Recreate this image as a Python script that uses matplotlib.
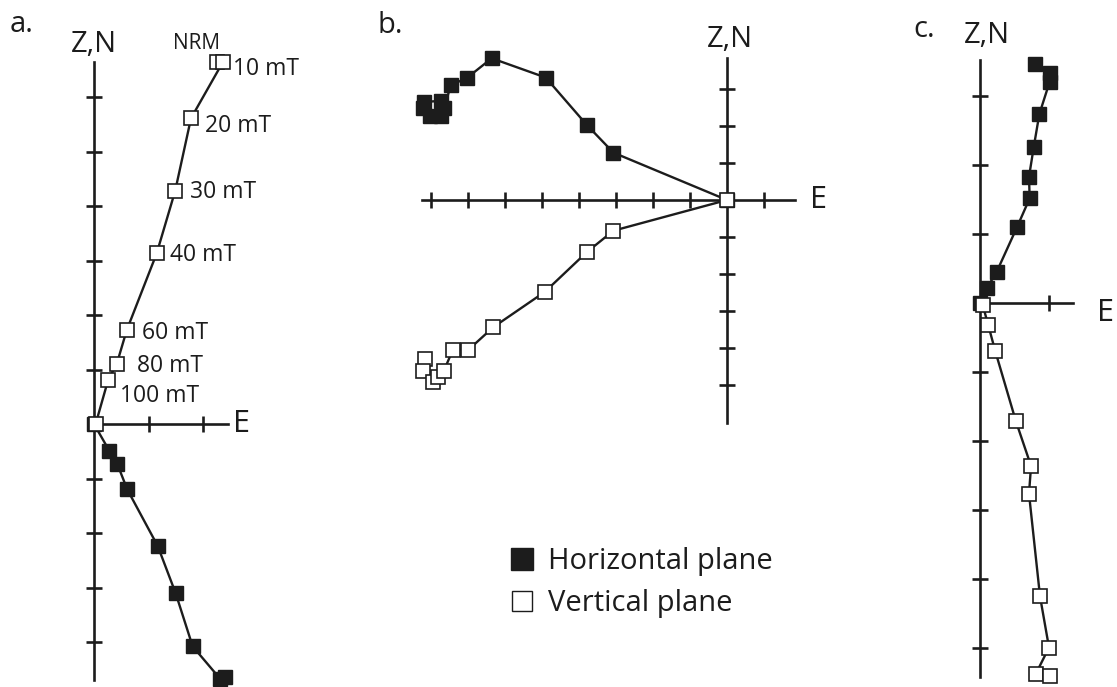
import matplotlib.pyplot as plt
from matplotlib.lines import Line2D

plt.rcParams['font.family'] = ['Open Sans', 'DejaVu Sans']

W, H = 1117, 687
INK = '#1c1c1c'

# a. AF demagnetisation, axis units = one tick
a_steps = ["NRM", "10 mT", "20 mT", "30 mT", "40 mT", "60 mT", "80 mT", "100 mT", ""]
a_vert_e = [2.25, 2.37, 1.78, 1.49, 1.15, 0.60, 0.42, 0.26, 0.03]
a_vert_z = [6.65, 6.65, 5.61, 4.28, 3.13, 1.72, 1.11, 0.81, 0.00]
a_horiz_e = [2.40, 2.31, 1.81, 1.50, 1.17, 0.61, 0.43, 0.28, 0.00]
a_horiz_n = [-4.64, -4.67, -4.08, -3.11, -2.24, -1.20, -0.74, -0.49, 0.00]

# b.
b_horiz_e = [-7.72, -8.04, -8.22, -8.19, -7.72, -7.65, -7.46, -7.04, -6.36, -4.90, -3.79, -3.07, 0.0]
b_horiz_n = [2.28, 2.28, 2.48, 2.65, 2.68, 2.48, 3.11, 3.29, 3.83, 3.31, 2.03, 1.28, 0.0]
b_vert_e = [-8.16, -8.21, -7.94, -7.80, -7.65, -7.41, -6.99, -6.32, -4.92, -3.79, -3.07, 0.0]
b_vert_z = [-4.31, -4.61, -4.91, -4.78, -4.61, -4.05, -4.05, -3.44, -2.48, -1.41, -0.83, 0.0]

# c.
c_horiz_e = [0.79, 1.01, 1.01, 0.86, 0.78, 0.71, 0.72, 0.54, 0.24, 0.10, 0.0]
c_horiz_n = [3.45, 3.32, 3.20, 2.73, 2.26, 1.82, 1.51, 1.10, 0.44, 0.21, 0.0]
c_vert_e = [0.04, 0.12, 0.22, 0.52, 0.74, 0.71, 0.87, 1.00, 0.81, 1.01]
c_vert_z = [-0.04, -0.33, -0.70, -1.72, -2.37, -2.77, -4.26, -5.00, -5.38, -5.42]

fig = plt.figure(figsize=(W / 100, H / 100), dpi=100)


def panel(ox, oy, unit, xlim, ylim, ybounds, xbounds, xticks, yticks):
    """Axes whose data origin sits at pixel (ox, oy), `unit` px per tick."""
    x0, x1 = xlim
    y0, y1 = ylim
    rect = [(ox + x0 * unit) / W, 1 - (oy - y0 * unit) / H,
            (x1 - x0) * unit / W, (y1 - y0) * unit / H]
    ax = fig.add_axes(rect)
    ax.set_xlim(xlim)
    ax.set_ylim(ylim)
    ax.patch.set_visible(False)
    for side in ("top", "right"):
        ax.spines[side].set_visible(False)
    ax.spines["left"].set_position(("data", 0))
    ax.spines["bottom"].set_position(("data", 0))
    ax.spines["left"].set_bounds(*ybounds)
    ax.spines["bottom"].set_bounds(*xbounds)
    for side in ("left", "bottom"):
        ax.spines[side].set_linewidth(1.9)
        ax.spines[side].set_color(INK)
    ax.set_xticks(xticks)
    ax.set_yticks(yticks)
    ax.tick_params(direction="inout", length=11, width=1.9, color=INK,
                   labelleft=False, labelbottom=False)
    return ax


def zij(ax, he, hn, ve, vz, ms):
    ax.plot(he, hn, "-s", color=INK, lw=1.7, ms=ms, mfc=INK, mec=INK,
            mew=1.0, zorder=3, clip_on=False)
    ax.plot(ve, vz, "-s", color=INK, lw=1.7, ms=ms, mfc="white", mec=INK,
            mew=1.2, zorder=4, clip_on=False)


def axis_names(ax, ytop, xend, zn_off, e_off):
    ax.annotate("Z,N", (0, ytop), xytext=zn_off, textcoords="offset pixels",
                ha="center", va="baseline", fontsize=21, color=INK)
    ax.annotate("E", (xend, 0), xytext=e_off, textcoords="offset pixels",
                ha="left", va="center", fontsize=22, color=INK)


# a.
ax_a = panel(94, 424, 54.5, (-1.5, 3.8), (-5.2, 7.6), (-4.70, 6.64),
             (-0.1, 2.45), [1, 2], [-4, -3, -2, -1, 1, 2, 3, 4, 5, 6])
zij(ax_a, a_horiz_e, a_horiz_n, a_vert_e, a_vert_z, 9.5)
axis_names(ax_a, 6.64, 2.45, (0, 10), (5, 0))
a_label_off = [(-20, 18), (10, -7), (14, -8), (15, -1), (13, -2), (15, -3),
               (20, -2), (12, -16), (0, 0)]
for step, e, z, off in zip(a_steps, a_vert_e, a_vert_z, a_label_off):
    if not step:
        continue
    ha = "center" if step == "NRM" else "left"
    size = 15 if step == "NRM" else 16.5
    ax_a.annotate(step, (e, z), xytext=off, textcoords="offset pixels",
                  ha=ha, va="center", fontsize=size, color=INK)

# b.
ax_b = panel(727, 200, 37, (-9.0, 2.5), (-6.5, 4.5), (-6.03, 3.84),
             (-8.25, 1.84), [-8, -7, -6, -5, -4, -3, -2, -1, 1],
             [-5, -4, -3, -2, -1, 1, 2, 3])
zij(ax_b, b_horiz_e, b_horiz_n, b_vert_e, b_vert_z, 10.5)
axis_names(ax_b, 3.84, 1.84, (3, 11), (15, 0))

# c.
ax_c = panel(980, 302.5, 69, (-0.6, 1.8), (-5.8, 3.9), (-5.43, 3.51),
             (-0.05, 1.35), [1], [-5, -4, -3, -2, -1, 1, 2, 3])
zij(ax_c, c_horiz_e, c_horiz_n, c_vert_e, c_vert_z, 9.5)
axis_names(ax_c, 3.51, 1.35, (7, 17), (24, -10))

for label, x, y in [("a.", 10, 32), ("b.", 377, 33), ("c.", 913, 37)]:
    fig.text(x / W, 1 - y / H, label, ha="left", va="baseline",
             fontsize=21, color=INK)

handles = [
    Line2D([], [], ls="none", marker="s", ms=16, mfc=INK, mec=INK),
    Line2D([], [], ls="none", marker="s", ms=15, mfc="white", mec=INK, mew=1.0),
]
fig.legend(handles, ["Horizontal plane", "Vertical plane"],
           loc="center left", bbox_to_anchor=(507 / W, 1 - 582.5 / H),
           frameon=False, fontsize=21, handlelength=1.0, handletextpad=0.41,
           labelspacing=0.45, borderpad=0, borderaxespad=0,
           labelcolor=INK)

fig.savefig("out.png", dpi=100)
